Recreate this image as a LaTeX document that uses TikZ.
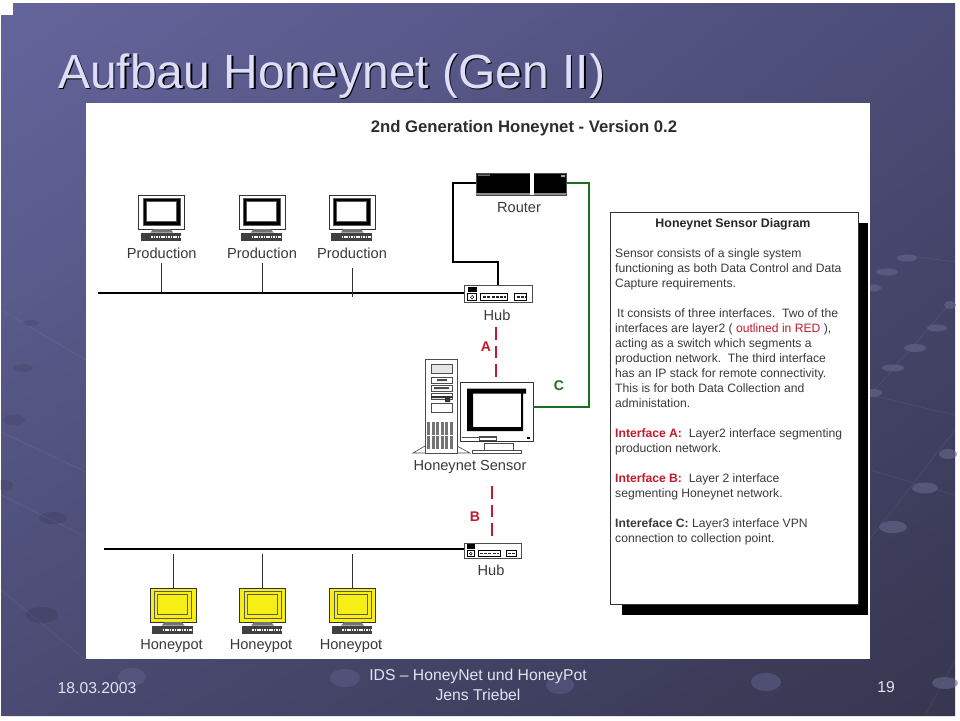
\documentclass[tikz,border=0pt]{standalone}
\usepackage{fontspec}
\setmainfont{Liberation Sans}
\usepackage{tikz}
\usetikzlibrary{shadings}

\definecolor{slidetl}{HTML}{65659D}
\definecolor{slidetr}{HTML}{4C4C78}
\definecolor{slidebl}{HTML}{4A4A72}
\definecolor{slidebr}{HTML}{36364F}
\definecolor{titlefg}{HTML}{DEDEF8}
\definecolor{footfg}{HTML}{E2E2F2}
\definecolor{inkgray}{HTML}{3A3A3A}
\definecolor{alertred}{HTML}{C01A2C}
\definecolor{vpngreen}{HTML}{1C6E1C}
\definecolor{potyellow}{HTML}{F6EE14}

\tikzset{
    caption/.style={text=inkgray, inner sep=0pt, font=\fontsize{14.6}{16}\selectfont},
    infoline/.style={anchor=base west, text=inkgray, inner sep=0pt, font=\fontsize{12.15}{14}\selectfont},
    footline/.style={text=footfg, inner sep=0pt, font=\fontsize{15.7}{18}\selectfont},
    tag/.style={inner sep=0pt, font=\fontsize{14}{16}\bfseries\selectfont},
    bus/.style={line width=2pt, black},
    drop/.style={line width=.9pt, black!80},
    layertwo/.style={line width=1.8pt, alertred, dash pattern=on 12.5pt off 6pt},
    hubbox/.style={draw=black!70, fill=white, line width=.7pt, inner sep=0pt, minimum height=17pt},
    deskbox/.style={draw=black!80, fill=#1, line width=.7pt, inner sep=0pt, minimum width=46pt, minimum height=34pt},
    % monitor face and keyboard, origin at the top left of the case
    pics/deskface/.style 2 args={code={
        \draw[black!65, fill=#1, line width=.5pt] (5,3.5) rectangle (42,30.5);
        \draw[black!65, fill=#2, line width=.5pt] (8,7) rectangle (38,27);
        \fill[black!55] (12,38) -- (15,34.5) -- (32,34.5) -- (35,38) -- cycle;
        \fill[black!75] (2.5,38) rectangle (43,46);
        \draw[white, line width=2pt, dash pattern=on 1.6pt off .8pt] (13,42.5) -- (42,42.5);
    }},
    % front of a hub, origin at the top left of the box
    pics/hubfront/.style={code={
        \fill[black] (4,2) rectangle (13,7.5);
        \draw[line width=.5pt] (4,9) rectangle (13,16);
        \draw[line width=.5pt] (8.5,12.5) circle (1.7pt);
        \draw[line width=.5pt] (17,9) rectangle (44,16);
        \draw[line width=1.6pt, dash pattern=on 3pt off 1.2pt, black!85] (19.5,12.5) -- (42,12.5);
        \draw[line width=.5pt] (51,9) rectangle (63,16);
        \draw[line width=1.6pt, dash pattern=on 3pt off 1.2pt, black!85] (53,12.5) -- (62,12.5);
    }},
}

\begin{document}
\begin{tikzpicture}[x=1pt,y=-1pt]
    \useasboundingbox (0,0) rectangle (960,720);
    \fill[white] (0,0) rectangle (960,720);

    % slide background
    \shade[upper left=slidetl, upper right=slidetr, lower left=slidebl, lower right=slidebr]
        (13,3) -- (955,3) -- (955,716) -- (1,716) -- (1,15) -- (13,15) -- cycle;
    \foreach \ax/\ay/\bx/\by in {955/298/873/392, 955/430/830/590, 955/660/925/716, 1/310/86/360, 1/432/86/472,
        1/495/86/537, 1/590/86/660, 870/395/955/415, 870/470/955/495, 905/255/955/262}
        \draw[white, opacity=.07, line width=.6pt] (\ax,\ay) -- (\bx,\by);
    \foreach \x/\y/\rx/\ry in {907/258/10/3.5, 887/272/11/3.5, 873/288/8/3.5, 950/305/6/4, 937/328/10/3.5,
        915/348/11/4, 893/368/11/3.5, 873/393/9/4, 948/454/9/5, 925/488/13/5.5, 893/527/14/6, 945/683/13/6}
        \fill[white!15!slidetr, opacity=.6] (\x,\y) ellipse[x radius=\rx, y radius=\ry];
    \foreach \x/\y/\rx/\ry in {31/323/8/3, 23/368/10/4, 14/420/11/5.5, 4/485/9/5, 53/518/14/6, 42/615/16/8}
        \fill[black, opacity=.09] (\x,\y) ellipse[x radius=\rx, y radius=\ry];
    \foreach \x/\y/\rx/\ry in {132/677/14/9, 345/678/15/9, 560/685/14/9, 766/682/15/9}
        \fill[white!8!slidetr, opacity=.65] (\x,\y) ellipse[x radius=\rx, y radius=\ry];

    % title and footer
    \node[anchor=base west, black, inner sep=0pt, font=\fontsize{48}{50}\selectfont] (titleback) at (59.5,89.5) {Aufbau Honeynet (Gen II)};
    \node[anchor=base west, titlefg, inner sep=0pt, font=\fontsize{48}{50}\selectfont] (title) at (58,88) {Aufbau Honeynet (Gen II)};
    \node[footline] (date) at (97,688) {18.03.2003};
    \node[footline] (event) at (478,676) {IDS -- HoneyNet und HoneyPot};
    \node[footline] (speaker) at (478,695) {Jens Triebel};
    \node[footline] (pageno) at (886,687) {19};

    % the diagram sheet
    \fill[white] (86,103) rectangle (870,659);
    \node[inkgray!80!black, inner sep=0pt, font=\fontsize{16.7}{18}\bfseries\selectfont] (sheethead) at (524,128) {2nd Generation Honeynet - Version 0.2};

    % buses and hubs
    \coordinate (busprod) at (98,292.7);
    \coordinate (buspot) at (104,549);
    \node[hubbox, minimum width=68pt] (hubA) at (498,293.5) {};
    \pic at (hubA.north west) {hubfront};
    \node[hubbox, minimum width=57pt, minimum height=15pt] (hubB) at (492.5,550.5) {};
    \pic[xscale=.84, yscale=.88] at (hubB.north west) {hubfront};
    \node[caption] (hubAname) at (497,315) {Hub};
    \node[caption] (hubBname) at (491,570) {Hub};
    \draw[bus] (busprod) -- (hubA.west |- busprod);
    \draw[bus] (buspot) -- (hubB.west |- buspot);

    % router
    \node[fill=black, draw=black!70, line width=.7pt, inner sep=0pt, minimum width=90pt, minimum height=22pt] (router) at (521,184) {};
    \fill[black!45] (476,192.5) rectangle (566,195);
    \fill[white] (529.5,173) rectangle (533.5,195);
    \fill[black!35] (478,174.5) rectangle (490,175.5) (561,175) rectangle (565,177);
    \node[caption] (routername) at (519,208) {Router};

    \coordinate (routerleft) at (476,183);
    \coordinate (routerright) at (566,183);
    \coordinate (hubAtop) at (498,285);
    \draw[line width=1.8pt] (routerleft) -- (453,183) -- (453,262) -- (498,262) -- (hubAtop);

    % production hosts
    \foreach \n/\x/\top/\bot in {1/161.7/263/292, 2/262/263/292, 3/352/268/297}{
        \node[deskbox=white] (prod\n) at (\x,212) {};
        \pic at (prod\n.north west) {deskface={black}{white}};
        \node[caption] (prodname\n) at (\x,253) {Production};
        \coordinate (prodtop\n) at (\x,\top);
        \coordinate (prodbot\n) at (\x,\bot);
        \draw[drop] (prodtop\n) -- (prodbot\n);
    }

    % honeypots
    \foreach \n/\x in {1/173, 2/262.5, 3/352.5}{
        \node[deskbox=potyellow] (pot\n) at (\x,605) {};
        \pic at (pot\n.north west) {deskface={potyellow}{potyellow}};
        \node[caption] (potname\n) at (\x-1.5,646) {Honeypot};
        \coordinate (pottop\n) at (\x,554);
        \draw[drop] (pottop\n) -- (pot\n.north);
    }

    % sensor: tower
    \fill[white, draw=black!70, line width=.6pt] (413,453) -- (425,446) -- (457,446) -- (470,453) -- cycle;
    \node[draw=black!70, fill=white, line width=.7pt, inner sep=0pt, minimum width=32pt, minimum height=94pt] (tower) at (441,406) {};
    \draw[black!70, line width=.6pt, fill=black!10] (431,364) rectangle (452,373);
    \foreach \y in {377,385,393}
        \draw[black!70, line width=.7pt] (431,\y) rectangle (452,\y+6);
    \fill[black!70] (437,379) rectangle (447,381) (434,387) rectangle (449,389);
    \fill[black!80] (431,396) rectangle (452,398) (445,397) rectangle (450,402);
    \draw[black!70, line width=.6pt] (431,403) rectangle (452,412);
    \foreach \x in {427,431.5,436,440.5,445,449.5}
        \fill[black!55] (\x,422) rectangle (\x+3.2,449);
    \draw[white, line width=.6pt] (426,435) -- (456,435);

    % sensor: monitor
    \node[draw=black!80, fill=white, line width=.7pt, inner sep=0pt, minimum width=73pt, minimum height=59pt] (sensor) at (496.5,411.5) {};
    \fill[black] (467,388.5) rectangle (526,393.5) (467,388.5) rectangle (473,431) (467,427) rectangle (523,431) (521,388.5) rectangle (523,431);
    \draw[black!70, line width=.5pt] (462,437) -- (496,437) (479,436.5) rectangle (496,440);
    \fill[black] (527,437) rectangle (530,439);
    \draw[black!70, line width=.6pt, fill=white] (484,443) rectangle (513,450) (472,450) rectangle (521,453);
    \node[caption] (sensorname) at (470,467) {Honeynet Sensor};

    % interfaces
    \coordinate (portA) at (496,327);
    \coordinate (portAend) at (496,378);
    \coordinate (portB) at (492,486);
    \coordinate (portBend) at (492,538);
    \coordinate (sensorport) at (533,407);
    \draw[layertwo] (portA) -- (portAend);
    \draw[layertwo] (portB) -- (portBend);
    \node[tag, alertred] (tagA) at (486,347) {A};
    \node[tag, alertred] (tagB) at (475,517) {B};
    \node[tag, vpngreen] (tagC) at (559,386) {C};
    \draw[line width=2.6pt, vpngreen] (routerright) -- (589,183) -- (589,407) -- (sensorport);

    % notes panel
    \fill[black] (622,223) rectangle (868,615);
    \node[draw=black!80, fill=white, line width=.8pt, inner sep=0pt, minimum width=248pt, minimum height=392pt] (notes) at (734,408) {};
    \node[text=black!85, inner sep=0pt, font=\fontsize{12.4}{14}\bfseries\selectfont] (noteshead) at (733,224) {Honeynet Sensor Diagram};
    \foreach \y/\txt [count=\i] in {
        257/{Sensor consists of a single system},
        272/{functioning as both Data Control and Data},
        287/{Capture requirements.},
        317/{\,It consists of three interfaces.\ \ Two of the},
        332/{interfaces are layer2 ( {\color{alertred}outlined in RED} ),},
        347/{acting as a switch which segments a},
        362/{production network.\ \ The third interface},
        377/{has an IP stack for remote connectivity.},
        392/{This is for both Data Collection and},
        407/{administation.},
        437/{{\color{alertred}\bfseries Interface A:}\ \ Layer2 interface segmenting},
        452/{production network.},
        482/{{\color{alertred}\bfseries Interface B:}\ \ Layer 2 interface},
        497/{segmenting Honeynet network.},
        527/{{\bfseries Intereface C:} Layer3 interface VPN},
        542/{connection to collection point.}}
        \node[infoline] (noteline\i) at (615,\y) {\txt};
\end{tikzpicture}
\end{document}
